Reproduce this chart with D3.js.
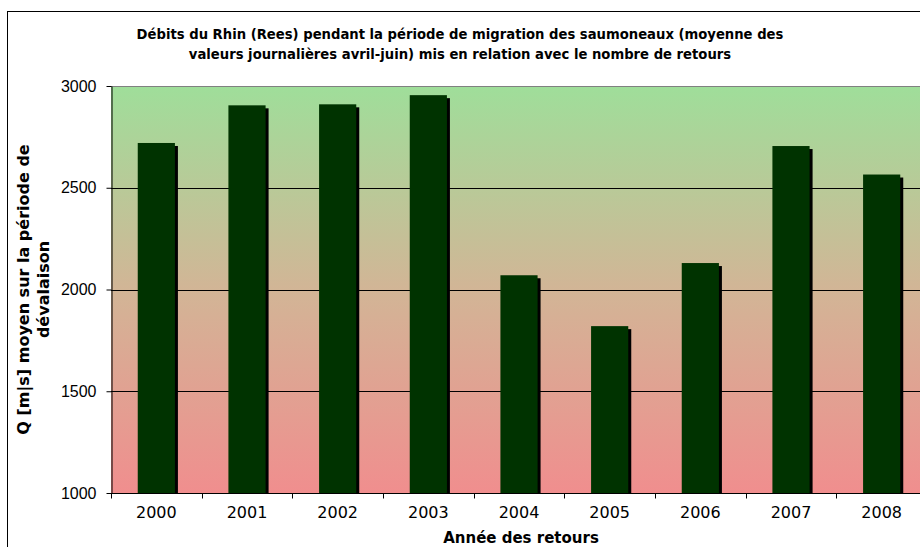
<!DOCTYPE html>
<html>
<head>
<meta charset="utf-8">
<script src="https://cdn.jsdelivr.net/npm/d3@7"></script>
<style>
  body { margin: 0; background: #fff; }
  svg { display: block; }
</style>
</head>
<body>
<div id="chart"></div>
<script>
// Data
var years = ['2000', '2001', '2002', '2003', '2004', '2005', '2006', '2007', '2008'];
var flows = [2720, 2905, 2910, 2955, 2070, 1820, 2130, 2705, 2565];
var yTicks = [1000, 1500, 2000, 2500, 3000];
var titleLines = [
    'Débits du Rhin (Rees) pendant la période de migration des saumoneaux (moyenne des',
    'valeurs journalières avril-juin) mis en relation avec le nombre de retours'
];
var yTitleLines = ['Q [m|s] moyen sur la période de', 'dévalaison'];
var xTitle = 'Année des retours';

var W = 920, H = 547;
var margin = { top: 86, left: 111 };
var plotW = 816, plotH = 407;

var svg = d3.select('#chart').append('svg')
    .attr('width', W)
    .attr('height', H)
    .style('font-family', 'DejaVu Sans, Verdana, sans-serif');

// outer chart border
svg.append('rect')
    .attr('x', 7.5).attr('y', 11.5)
    .attr('width', W + 20).attr('height', H + 20)
    .attr('fill', '#fff').attr('stroke', '#000');

// background gradient
var defs = svg.append('defs');
var grad = defs.append('linearGradient')
    .attr('id', 'bg').attr('x1', 0).attr('y1', 0).attr('x2', 0).attr('y2', 1);
grad.append('stop').attr('offset', '0%').attr('stop-color', '#9fde9a');
grad.append('stop').attr('offset', '50%').attr('stop-color', '#d2b596');
grad.append('stop').attr('offset', '100%').attr('stop-color', '#f08e8e');

var g = svg.append('g')
    .attr('transform', 'translate(' + margin.left + ',' + margin.top + ')');

var x = d3.scaleBand().domain(years).range([0, plotW]);
var y = d3.scaleLinear().domain([1000, 3000]).range([plotH, 0]);

g.append('rect')
    .attr('width', plotW).attr('height', plotH)
    .attr('fill', 'url(#bg)');

// gridlines
g.selectAll('.grid')
    .data(yTicks.filter(function (d) { return d > 1000 && d < 3000; }))
    .enter().append('line')
    .attr('x1', 0).attr('x2', plotW)
    .attr('y1', function (d) { return Math.round(y(d)) + 0.5; })
    .attr('y2', function (d) { return Math.round(y(d)) + 0.5; })
    .attr('stroke', '#000');

// top border of plot area
g.append('line')
    .attr('x1', 0).attr('x2', plotW)
    .attr('y1', 0.5).attr('y2', 0.5)
    .attr('stroke', '#808080');

var barW = x.bandwidth() * 0.41;

// shadows
g.selectAll('.shadow')
    .data(flows)
    .enter().append('rect')
    .attr('x', function (d, i) { return x(years[i]) + (x.bandwidth() - barW) / 2 + 3; })
    .attr('y', function (d) { return y(d) + 3; })
    .attr('width', barW)
    .attr('height', function (d) { return plotH - y(d) - 3; })
    .attr('fill', '#000');

// bars
g.selectAll('.bar')
    .data(flows)
    .enter().append('rect')
    .attr('x', function (d, i) { return x(years[i]) + (x.bandwidth() - barW) / 2; })
    .attr('y', function (d) { return y(d); })
    .attr('width', barW)
    .attr('height', function (d) { return plotH - y(d); })
    .attr('fill', '#003300');

// y axis
var yAxis = g.append('g')
    .attr('transform', 'translate(0.5,0)')
    .call(d3.axisLeft(y).tickValues(yTicks).tickFormat(d3.format('d'))
        .tickSize(5).tickPadding(10).tickSizeOuter(0));
yAxis.selectAll('text').style('font-size', '16px').attr('fill', '#000');
yAxis.select('.domain').attr('stroke', '#000');

// x axis: ticks on band boundaries
var xAxis = g.append('g')
    .attr('transform', 'translate(0,' + (plotH + 0.5) + ')');
xAxis.append('line')
    .attr('x1', 0).attr('x2', plotW)
    .attr('stroke', '#000');
xAxis.selectAll('.tick')
    .data(years)
    .enter().append('line')
    .attr('x1', function (d) { return Math.round(x(d)) + 0.5; })
    .attr('x2', function (d) { return Math.round(x(d)) + 0.5; })
    .attr('y1', 0).attr('y2', 5)
    .attr('stroke', '#000');
xAxis.selectAll('.lbl')
    .data(years)
    .enter().append('text')
    .attr('x', function (d) { return x(d) + x.bandwidth() / 2; })
    .attr('y', 24)
    .attr('text-anchor', 'middle')
    .style('font-size', '16px')
    .text(function (d) { return d; });

// chart title
svg.selectAll('.title')
    .data(titleLines)
    .enter().append('text')
    .attr('x', 460)
    .attr('y', function (d, i) { return 39 + i * 20; })
    .attr('text-anchor', 'middle')
    .style('font-size', '13.2px')
    .style('font-weight', 'bold')
    .text(function (d) { return d; });

// axis titles
svg.append('text')
    .attr('x', margin.left + plotW / 2 + 2)
    .attr('y', 543)
    .attr('text-anchor', 'middle')
    .style('font-size', '15px')
    .style('font-weight', 'bold')
    .text(xTitle);

svg.selectAll('.ytitle')
    .data(yTitleLines)
    .enter().append('text')
    .attr('transform', function (d, i) {
        return 'translate(' + (29 + i * 20) + ',' + (margin.top + plotH / 2) + ') rotate(-90)';
    })
    .attr('text-anchor', 'middle')
    .style('font-size', '16px')
    .style('font-weight', 'bold')
    .text(function (d) { return d; });
</script>
</body>
</html>
